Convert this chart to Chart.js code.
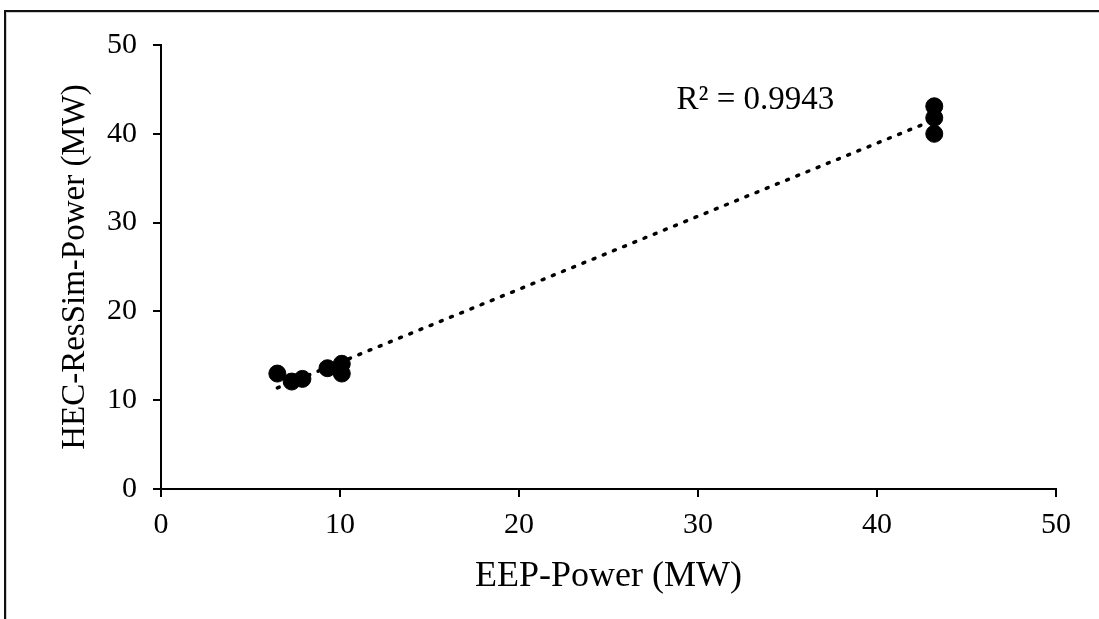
<!DOCTYPE html>
<html>
<head>
<meta charset="utf-8">
<script src="https://cdn.jsdelivr.net/npm/chart.js@4"></script>
<style>
    html, body { margin: 0; padding: 0; background: #fff; }
    #wrap { position: relative; width: 1099px; height: 619px; overflow: hidden; }
    #frame {
        position: absolute; left: 4px; top: 10px; width: 1200px; height: 700px;
        border-left: 2px solid #111; border-top: 2px solid #111;
        box-shadow: inset 1px 1px 0 #cfcfcf;
    }
    canvas { position: absolute; left: 0; top: 0; }
</style>
</head>
<body>
<div id="wrap">
    <div id="frame"></div>
    <canvas id="powerChart" width="1099" height="619"></canvas>
</div>
<script>
// ─── Data ───
const eepPower = [6.5, 7.3, 7.9, 9.3, 10.1, 10.1, 43.2, 43.2, 43.2];
const resSimPower = [13.0, 12.1, 12.4, 13.6, 14.1, 13.0, 43.1, 41.8, 40.0];
const xTicks = [0, 10, 20, 30, 40, 50];
const yTicks = [0, 10, 20, 30, 40, 50];
const r2Label = 'R\u00B2 = 0.9943';

const FONT = "'Liberation Serif', 'Times New Roman', serif";

// Linear trendline (least squares) from the points themselves
const fitLine = (xs, ys) => {
    const n = xs.length;
    const mx = xs.reduce((a, b) => a + b, 0) / n;
    const my = ys.reduce((a, b) => a + b, 0) / n;
    let sxy = 0, sxx = 0;
    xs.forEach((x, i) => { sxy += (x - mx) * (ys[i] - my); sxx += (x - mx) * (x - mx); });
    const slope = sxy / sxx;
    const icpt = my - slope * mx;
    const x0 = Math.min(...xs), x1 = Math.max(...xs);
    return [{ x: x0, y: icpt + slope * x0 }, { x: x1, y: icpt + slope * x1 }];
};

const points = eepPower.map((x, i) => ({ x: x, y: resSimPower[i] }));

// R² text, drawn in data space near the top of the trendline
const r2Plugin = {
    id: 'r2Text',
    afterDatasetsDraw(chart) {
        const { ctx, scales } = chart;
        ctx.save();
        ctx.font = '33px ' + FONT;
        ctx.fillStyle = '#000';
        ctx.textBaseline = 'middle';
        ctx.textAlign = 'left';
        ctx.fillText(r2Label, scales.x.getPixelForValue(28.8), scales.y.getPixelForValue(43.8));
        ctx.restore();
    }
};

const axisGrid = {
    display: true,
    drawOnChartArea: false,
    drawTicks: true,
    tickLength: 8,
    color: '#000',
    lineWidth: 2
};

new Chart(document.getElementById('powerChart'), {
    type: 'scatter',
    data: {
        datasets: [
            {
                label: 'Power',
                data: points,
                backgroundColor: '#000',
                borderColor: '#000',
                pointRadius: 8.5,
                pointHoverRadius: 8.5,
                order: 1
            },
            {
                type: 'line',
                label: 'Linear',
                data: fitLine(eepPower, resSimPower),
                borderColor: '#000',
                borderWidth: 3.5,
                borderDash: [2, 9],
                borderCapStyle: 'round',
                pointRadius: 0,
                fill: false,
                order: 0
            }
        ]
    },
    options: {
        responsive: false,
        animation: false,
        events: [],
        layout: { padding: { top: 45, right: 43, left: 0, bottom: 0 } },
        plugins: {
            legend: { display: false },
            tooltip: { enabled: false }
        },
        scales: {
            x: {
                type: 'linear',
                min: 0,
                max: 50,
                afterBuildTicks: (axis) => { axis.ticks = xTicks.map(v => ({ value: v })); },
                afterFit: (axis) => { axis.height = 130; },
                border: { display: true, color: '#000', width: 2 },
                grid: axisGrid,
                ticks: {
                    color: '#000',
                    padding: 10,
                    maxRotation: 0,
                    font: { family: FONT, size: 30 }
                },
                title: {
                    display: true,
                    text: 'EEP-Power (MW)',
                    color: '#000',
                    padding: { top: 0, bottom: 21 },
                    font: { family: FONT, size: 36 }
                }
            },
            y: {
                type: 'linear',
                min: 0,
                max: 50,
                afterBuildTicks: (axis) => { axis.ticks = yTicks.map(v => ({ value: v })); },
                afterFit: (axis) => { axis.width = 161; },
                border: { display: true, color: '#000', width: 2 },
                grid: axisGrid,
                ticks: {
                    color: '#000',
                    padding: 16,
                    font: { family: FONT, size: 30 }
                },
                title: {
                    display: true,
                    text: 'HEC-ResSim-Power (MW)',
                    color: '#000',
                    padding: { top: 56, bottom: 0 },
                    font: { family: FONT, size: 33 }
                }
            }
        }
    },
    plugins: [r2Plugin]
});
</script>
</body>
</html>
